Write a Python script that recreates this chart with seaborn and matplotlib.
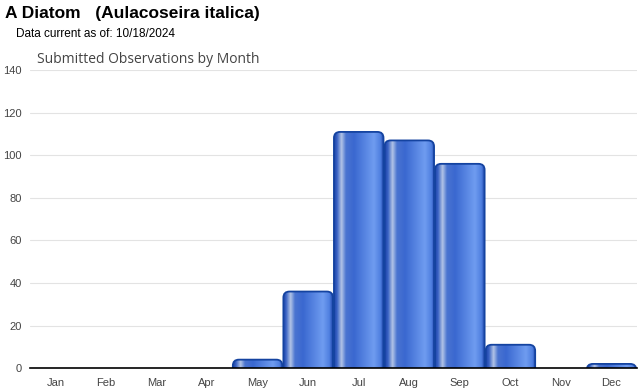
"""Worksheet: Submitted Observations by Month"""
import numpy as np
import pandas as pd
import matplotlib
matplotlib.use("Agg")
import matplotlib.pyplot as plt
from matplotlib.patches import FancyBboxPatch
from matplotlib.colors import LinearSegmentedColormap
import seaborn as sns

months = ["Jan", "Feb", "Mar", "Apr", "May", "Jun",
          "Jul", "Aug", "Sep", "Oct", "Nov", "Dec"]
observations = [0, 0, 0, 0, 4, 36, 111, 107, 96, 11, 0, 2]
y_ticks = [0, 20, 40, 60, 80, 100, 120, 140]

df = pd.DataFrame({"Month": months, "Observations": observations})

sns.set_style("white")
plt.rcParams["font.family"] = ["Liberation Sans", "DejaVu Sans"]

fig = plt.figure(figsize=(6.4, 3.9), dpi=100)
ax = fig.add_axes([0.047, 0.056, 0.948, 0.764])

sns.barplot(data=df, x="Month", y="Observations", ax=ax, width=0.98,
            color="#3366CC", saturation=1, zorder=3)

ax.set_ylim(0, 140)
ax.set_yticks(y_ticks)
ax.set_xlim(-0.5, len(months) - 0.5)
ax.yaxis.grid(True, color="#e3e3e3", linewidth=0.8, zorder=0)
ax.set_axisbelow(True)
for s in ["top", "right", "left"]:
    ax.spines[s].set_visible(False)
ax.spines["bottom"].set_color("black")
ax.spines["bottom"].set_linewidth(1.2)
ax.spines["bottom"].set_zorder(6)
ax.tick_params(axis="y", length=0, labelsize=8, labelcolor="#444444", pad=6)
ax.tick_params(axis="x", length=3, color="#cccccc", labelsize=8,
               labelcolor="#444444", pad=4)
ax.set_xlabel("")
ax.set_ylabel("")

# cylinder-like gradient fill with rounded tops
cmap = LinearSegmentedColormap.from_list("cyl", [
    (0.0, "#1d43a8"), (0.06, "#3a63c4"), (0.15, "#b2c4e6"), (0.24, "#4a74d0"),
    (0.40, "#3a68d0"), (0.80, "#6f9cf0"), (0.93, "#4f7fe0"), (1.0, "#1d43a8")])
grad = np.linspace(0, 1, 256).reshape(1, -1)
aspect = (298 / 140) ** -1 * 50.6  # data y units per data x unit, pixel-wise
for p in list(ax.patches):
    x0, w, h = p.get_x(), p.get_width(), p.get_height()
    p.set_visible(False)
    if h <= 0:
        continue
    box = FancyBboxPatch((x0, -10), w, h + 10,
                         boxstyle="round,pad=0,rounding_size=0.12",
                         mutation_aspect=aspect,
                         facecolor="none", edgecolor="#1443a0",
                         linewidth=1.3, zorder=5)
    ax.add_patch(box)
    im = ax.imshow(grad, extent=(x0, x0 + w, 0, h), aspect="auto",
                   cmap=cmap, zorder=4)
    im.set_clip_path(box)
ax.set_xlim(-0.5, len(months) - 0.5)
ax.set_ylim(0, 140)

fig.text(0.008, 0.955, "A Diatom   (Aulacoseira italica)", fontsize=12.5,
         fontweight="bold", color="black")
fig.text(0.025, 0.905, "Data current as of: 10/18/2024", fontsize=8.5,
         color="black")
fig.text(0.058, 0.838, "Submitted Observations by Month", fontsize=10,
         color="#444444", family=["Open Sans", "DejaVu Sans"])

fig.savefig("out.png", dpi=100)
